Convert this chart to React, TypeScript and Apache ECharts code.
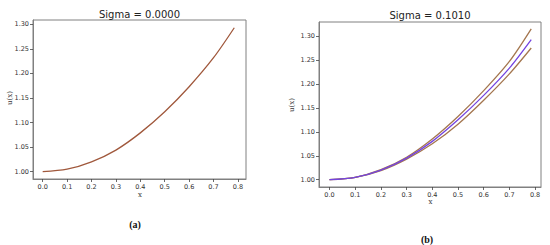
import React, { useEffect, useRef } from "react";
import * as echarts from "echarts";

const xs = [0, 0.1, 0.2, 0.3, 0.4, 0.5, 0.6, 0.7, 0.785];
const uLeft = [1.0, 1.005, 1.02, 1.044, 1.079, 1.122, 1.173, 1.232, 1.293];
const uMean = [1.0, 1.005, 1.02, 1.045, 1.08, 1.125, 1.176, 1.233, 1.2925];
const uUpper = [1.0, 1.005, 1.021, 1.047, 1.085, 1.132, 1.186, 1.247, 1.315];
const uLower = [1.0, 1.005, 1.019, 1.043, 1.075, 1.116, 1.166, 1.221, 1.275];
const xTicks = [0, 0.1, 0.2, 0.3, 0.4, 0.5, 0.6, 0.7, 0.8];
const yTicks = [1.0, 1.05, 1.1, 1.15, 1.2, 1.25, 1.3];
const titles = ["Sigma = 0.0000", "Sigma = 0.1010"];
const panelLabels = ["(a)", "(b)"];

const pts = (ys: number[]) => xs.map((x, i) => [x, ys[i]]);

export default function App() {
  const ref = useRef<HTMLDivElement>(null);
  useEffect(() => {
    if (!ref.current) return;
    const chart = echarts.init(ref.current, null, { renderer: "svg" });
    const tickFont = { fontFamily: "DejaVu Sans", fontSize: 6.5, color: "#333" };
    const axisLine = { show: true, onZero: false, lineStyle: { color: "#808080", width: 1 } };
    const mkX = (gi: number, min: number, max: number) => ({
      type: "value",
      gridIndex: gi,
      min,
      max,
      axisLine,
      splitLine: { show: false },
      axisTick: { show: true, inside: false, length: 3, customValues: xTicks, lineStyle: { color: "#444", width: 0.8 } },
      axisLabel: { ...tickFont, margin: 4, customValues: xTicks, formatter: (v: number) => v.toFixed(1) },
    });
    const mkY = (gi: number, min: number, max: number) => ({
      type: "value",
      gridIndex: gi,
      min,
      max,
      axisLine,
      splitLine: { show: false },
      axisTick: { show: true, inside: false, length: 3, customValues: yTicks, lineStyle: { color: "#444", width: 0.8 } },
      axisLabel: { ...tickFont, margin: 4, customValues: yTicks, formatter: (v: number) => v.toFixed(2) },
    });
    const line = (xi: number, data: number[][], color: string, z = 2) => ({
      type: "line",
      xAxisIndex: xi,
      yAxisIndex: xi,
      data,
      smooth: 0.3,
      showSymbol: false,
      z,
      lineStyle: { color, width: 1.3 },
    });
    chart.setOption({
      animation: false,
      grid: [
        { left: 33, top: 20, width: 213, height: 159, show: true, borderColor: "#808080", borderWidth: 1, backgroundColor: "#fff" },
        { left: 319, top: 22, width: 222, height: 165, show: true, borderColor: "#808080", borderWidth: 1, backgroundColor: "#fff" },
      ],
      xAxis: [mkX(0, -0.0397, 0.833), mkX(1, -0.0409, 0.823)],
      yAxis: [mkY(0, 0.9851, 1.3088), mkY(1, 0.9848, 1.3292)],
      series: [
        line(0, pts(uLeft), "#a0583c"),
        line(1, pts(uUpper), "#a4764f"),
        line(1, pts(uLower), "#a4764f"),
        line(1, pts(uMean), "#7444e0", 3),
      ],
      graphic: [
        { type: "text", x: 139.5, y: 14, style: { text: titles[0], fontFamily: "DejaVu Sans", fontSize: 10, fill: "#222", align: "center", verticalAlign: "middle" } },
        { type: "text", x: 430, y: 15, style: { text: titles[1], fontFamily: "DejaVu Sans", fontSize: 10, fill: "#222", align: "center", verticalAlign: "middle" } },
        { type: "text", x: 140, y: 195, style: { text: "x", fontFamily: "DejaVu Serif", fontSize: 7, fill: "#333", align: "center", verticalAlign: "middle" } },
        { type: "text", x: 430.5, y: 202, style: { text: "x", fontFamily: "DejaVu Serif", fontSize: 7, fill: "#333", align: "center", verticalAlign: "middle" } },
        { type: "text", x: 10, y: 98, rotation: Math.PI / 2, style: { text: "u(x)", fontFamily: "DejaVu Serif", fontSize: 7, fill: "#333", align: "center", verticalAlign: "middle" } },
        { type: "text", x: 292, y: 105, rotation: Math.PI / 2, style: { text: "u(x)", fontFamily: "DejaVu Serif", fontSize: 7, fill: "#333", align: "center", verticalAlign: "middle" } },
        { type: "text", x: 135, y: 224, style: { text: panelLabels[0], fontFamily: "Liberation Serif", fontWeight: "bold", fontSize: 10, fill: "#111", align: "center", verticalAlign: "middle" } },
        { type: "text", x: 427, y: 239, style: { text: panelLabels[1], fontFamily: "Liberation Serif", fontWeight: "bold", fontSize: 10, fill: "#111", align: "center", verticalAlign: "middle" } },
      ],
    });
    return () => chart.dispose();
  }, []);
  return (
    <div
      ref={ref}
      style={{ position: "absolute", left: 0, top: 0, width: 550, height: 245, background: "#fff" }}
    />
  );
}
